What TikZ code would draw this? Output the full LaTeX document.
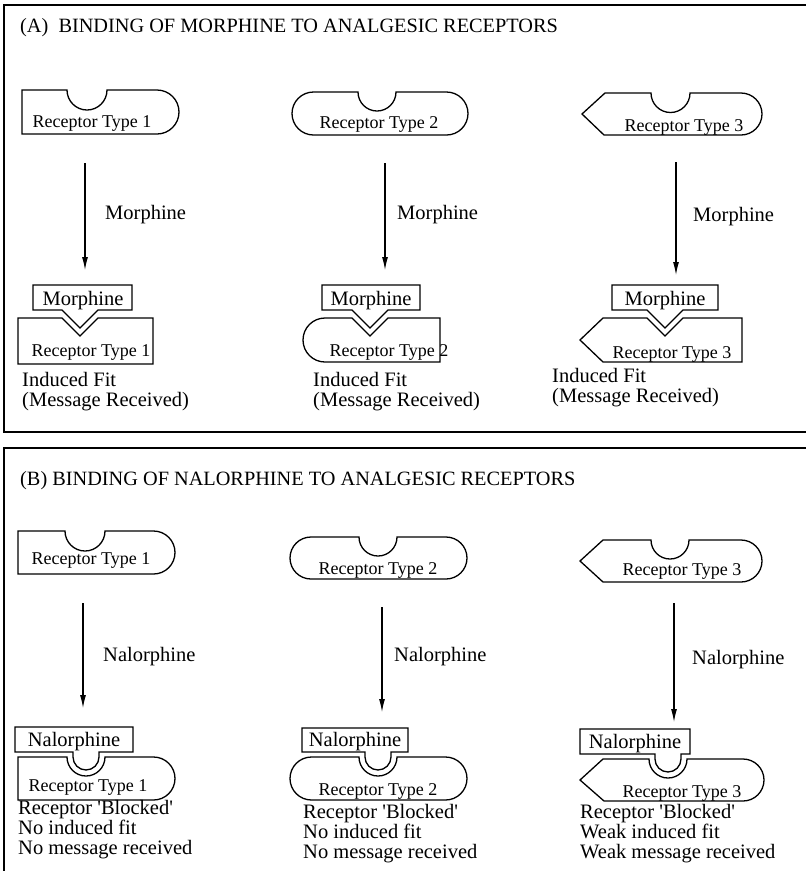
\documentclass[tikz,border=0pt]{standalone}
\usepackage{fontspec}
\setmainfont{Liberation Serif}
\usetikzlibrary{arrows.meta}

\begin{document}
\begin{tikzpicture}[
    x=1pt, y=-1pt,
    >={Latex[length=13pt,width=6pt]},
    frame/.style={line width=1.4pt},
    outline/.style={draw, line width=1.3pt, line join=miter},
    flow/.style={->, line width=1.1pt},
    title/.style={anchor=base west, inner sep=0pt, font=\fontsize{20.3}{20}\selectfont},
    lbl/.style={anchor=base west, inner sep=0pt, font=\fontsize{20.5}{20}\selectfont},
    drug/.style={anchor=base, inner sep=0pt, font=\fontsize{20.5}{20}\selectfont},
    rlbl/.style={anchor=base, inner sep=0pt, font=\fontsize{18}{18}\selectfont},
    note/.style={anchor=base west, inner sep=0pt, align=left, font=\fontsize{20.5}{20}\selectfont}
]
    \useasboundingbox (0,0) rectangle (806,871);

    % panel frames
    \draw[frame] (806,5) -- (4,5) -- (4,432) -- (806,432);
    \draw[frame] (806,448) -- (4,448) -- (4,871);
    \node[title] (titleA) at (20,32) {(A)\ \ BINDING OF MORPHINE TO ANALGESIC RECEPTORS};
    \node[title] (titleB) at (20,485) {(B) BINDING OF NALORPHINE TO ANALGESIC RECEPTORS};

    % (A) free receptors
    \draw[outline] (22,90) -- (67,90) arc[start angle=180, end angle=0, radius=20] -- (157,90)
        arc[start angle=-90, end angle=90, radius=22] -- (22,134) -- cycle;
    \node[rlbl] (recA1) at (92,127) {Receptor Type 1};
    \draw[outline] (313.5,92) -- (358,92) arc[start angle=180, end angle=0, radius=19] -- (446.5,92)
        arc[start angle=-90, end angle=90, radius=21.5] -- (313.5,135)
        arc[start angle=90, end angle=270, radius=21.5] -- cycle;
    \node[rlbl] (recA2) at (379,128) {Receptor Type 2};
    \draw[outline] (605,93) -- (651,93) arc[start angle=180, end angle=0, radius=19.5] -- (741,93)
        arc[start angle=-90, end angle=90, radius=21] -- (604,135) -- (582,114) -- cycle;
    \node[rlbl] (recA3) at (684,131) {Receptor Type 3};

    \coordinate (a1s) at (85,163); \coordinate (a1e) at (85,270);
    \coordinate (a2s) at (385,163); \coordinate (a2e) at (385,270);
    \coordinate (a3s) at (676,162); \coordinate (a3e) at (676,275);
    \draw[flow] (a1s) -- (a1e);
    \draw[flow] (a2s) -- (a2e);
    \draw[flow] (a3s) -- (a3e);
    \node[lbl] (morA1) at (105,219) {Morphine};
    \node[lbl] (morA2) at (397,219) {Morphine};
    \node[lbl] (morA3) at (693,221) {Morphine};

    % (A) bound receptors
    \draw[outline] (33,285) -- (132,285) -- (132,310) -- (98,310) -- (80,328) -- (62,310) -- (33,310) -- cycle;
    \node[drug] (boxA1) at (83,305) {Morphine};
    \draw[outline] (18,318) -- (62,318) -- (80,336) -- (98,318) -- (153,318) -- (153,364) -- (18,364) -- cycle;
    \node[rlbl] (fitA1) at (91,356) {Receptor Type 1};
    \node[note] (resA1) at (22,406) {Induced Fit\\(Message Received)};

    \draw[outline] (322,285) -- (420,285) -- (420,310) -- (388,310) -- (370,328) -- (352,310) -- (322,310) -- cycle;
    \node[drug] (boxA2) at (371,305) {Morphine};
    \draw[outline] (325,318) -- (352,318) -- (370,336) -- (388,318) -- (440,318) -- (440,362) -- (325,362)
        arc[start angle=90, end angle=270, radius=22] -- cycle;
    \node[rlbl] (fitA2) at (389,356) {Receptor Type 2};
    \node[note] (resA2) at (313,406) {Induced Fit\\(Message Received)};

    \draw[outline] (612,285) -- (718,285) -- (718,310) -- (683,310) -- (665,328) -- (647,310) -- (612,310) -- cycle;
    \node[drug] (boxA3) at (665,305) {Morphine};
    \draw[outline] (603,318) -- (647,318) -- (665,336) -- (683,318) -- (742,318) -- (742,362) -- (603,362) -- (580,340) -- cycle;
    \node[rlbl] (fitA3) at (672,358) {Receptor Type 3};
    \node[note] (resA3) at (552,402) {Induced Fit\\(Message Received)};

    % (B) free receptors
    \draw[outline] (18,531) -- (65,531) arc[start angle=180, end angle=0, radius=20] -- (153.5,531)
        arc[start angle=-90, end angle=90, radius=21.5] -- (18,574) -- cycle;
    \node[rlbl] (recB1) at (91,564) {Receptor Type 1};
    \draw[outline] (311,537) -- (359,537) arc[start angle=180, end angle=0, radius=19] -- (446,537)
        arc[start angle=-90, end angle=90, radius=21] -- (311,579)
        arc[start angle=90, end angle=270, radius=21] -- cycle;
    \node[rlbl] (recB2) at (378,574) {Receptor Type 2};
    \draw[outline] (603,540) -- (651,540) arc[start angle=180, end angle=0, radius=19] -- (741,540)
        arc[start angle=-90, end angle=90, radius=21] -- (603,582) -- (580,561) -- cycle;
    \node[rlbl] (recB3) at (682,575) {Receptor Type 3};

    \coordinate (b1s) at (83,603); \coordinate (b1e) at (83,708);
    \coordinate (b2s) at (382,607); \coordinate (b2e) at (382,712);
    \coordinate (b3s) at (674,603); \coordinate (b3e) at (674,722);
    \draw[flow] (b1s) -- (b1e);
    \draw[flow] (b2s) -- (b2e);
    \draw[flow] (b3s) -- (b3e);
    \node[lbl] (nalB1) at (103,661) {Nalorphine};
    \node[lbl] (nalB2) at (394,661) {Nalorphine};
    \node[lbl] (nalB3) at (692,664) {Nalorphine};

    % (B) blocked receptors
    \draw[outline] (15,727) -- (133,727) -- (133,752) -- (99,752) -- (99,757)
        arc[start angle=0, end angle=180, radius=13] -- (73,752) -- (15,752) -- cycle;
    \node[drug] (boxB1) at (74,746) {Nalorphine};
    \draw[outline] (18,757) -- (67,757) arc[start angle=180, end angle=0, radius=19] -- (153.5,757)
        arc[start angle=-90, end angle=90, radius=21.5] -- (18,800) -- cycle;
    \node[rlbl] (blkB1) at (88,791) {Receptor Type 1};
    \node[note] (resB1) at (18,854) {Receptor \textquotesingle Blocked\textquotesingle\\No induced fit\\No message received};

    \draw[outline] (302,728) -- (408,728) -- (408,752) -- (391,752) -- (391,757)
        arc[start angle=0, end angle=180, radius=13] -- (365,752) -- (302,752) -- cycle;
    \node[drug] (boxB2) at (355,746) {Nalorphine};
    \draw[outline] (311.5,757) -- (359,757) arc[start angle=180, end angle=0, radius=19] -- (445.5,757)
        arc[start angle=-90, end angle=90, radius=21.5] -- (311.5,800)
        arc[start angle=90, end angle=270, radius=21.5] -- cycle;
    \node[rlbl] (blkB2) at (378,795) {Receptor Type 2};
    \node[note] (resB2) at (303,858) {Receptor \textquotesingle Blocked\textquotesingle\\No induced fit\\No message received};

    \draw[outline] (580,729) -- (690,729) -- (690,754) -- (681,754) -- (681,759)
        arc[start angle=0, end angle=180, radius=13] -- (655,754) -- (580,754) -- cycle;
    \node[drug] (boxB3) at (635,748) {Nalorphine};
    \draw[outline] (603,759) -- (649,759) arc[start angle=180, end angle=0, radius=19] -- (743,759)
        arc[start angle=-90, end angle=90, radius=21] -- (604,801) -- (580,780) -- cycle;
    \node[rlbl] (blkB3) at (682,797) {Receptor Type 3};
    \node[note] (resB3) at (580,858) {Receptor \textquotesingle Blocked\textquotesingle\\Weak induced fit\\Weak message received};
\end{tikzpicture}
\end{document}
